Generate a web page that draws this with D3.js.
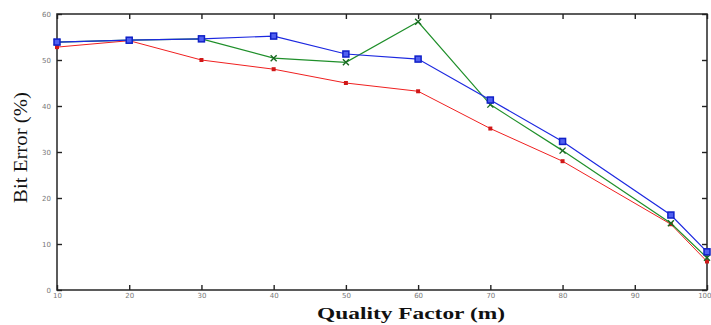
<!DOCTYPE html>
<html><head><meta charset="utf-8">
<script src="https://cdn.jsdelivr.net/npm/d3@7"></script>
<style>body{margin:0;background:#fff}svg{display:block}</style>
</head><body>
<svg id="c" width="711" height="325"></svg>
<script>
const qualityFactors = [10, 20, 30, 40, 50, 60, 70, 80, 95, 100];
const blueSeries  = [53.9, 54.3, 54.6, 55.2, 51.3, 50.2, 41.3, 32.3, 16.3, 8.3];
const greenSeries = [53.9, 54.3, 54.6, 50.4, 49.5, 58.3, 40.3, 30.3, 14.5, 7.0];
const redSeries   = [52.8, 54.2, 50.0, 48.0, 45.0, 43.2, 35.1, 28.0, 14.3, 6.2];
const xTicks = [10, 20, 30, 40, 50, 60, 70, 80, 90, 100];
const yTicks = [0, 10, 20, 30, 40, 50, 60];

const svg = d3.select("#c");
const L = 57, R = 707, T = 14, B = 290;
const x = d3.scaleLinear().domain([10, 100]).range([L, R]);
const y = d3.scaleLinear().domain([0, 60]).range([B, T]);

svg.append("rect").attr("x", L).attr("y", T).attr("width", R - L).attr("height", B - T)
  .attr("fill", "none").attr("stroke", "#333").attr("stroke-width", 1.6);

svg.append("g").attr("transform", `translate(0,${B})`)
  .call(d3.axisBottom(x).tickValues(xTicks).tickSize(-5).tickPadding(3).tickFormat(d3.format("d")));
svg.append("g").attr("transform", `translate(0,${T})`)
  .call(d3.axisTop(x).tickValues(xTicks).tickSize(-5).tickFormat(""));
svg.append("g").attr("transform", `translate(${L},0)`)
  .call(d3.axisLeft(y).tickValues(yTicks).tickSize(-5).tickPadding(6).tickFormat(d3.format("d")));
svg.append("g").attr("transform", `translate(${R},0)`)
  .call(d3.axisRight(y).tickValues(yTicks).tickSize(-5).tickFormat(""));
svg.selectAll(".domain").remove();
svg.selectAll(".tick line").attr("stroke", "#222").attr("stroke-width", 1.4);
svg.selectAll(".tick text").attr("fill", "#777").attr("font-size", 7)
  .attr("font-family", "DejaVu Sans");
svg.selectAll(".tick text").filter(d => d === 100).attr("text-anchor", "end").attr("dx", 4);

const line = d3.line().x((d, i) => x(qualityFactors[i])).y(d => y(d));
const series = [
  {vals: redSeries, color: "#f02020", marker: "dot", w: 1},
  {vals: greenSeries, color: "#1f8f2a", marker: "x", w: 1.2},
  {vals: blueSeries, color: "#1c28e0", marker: "sq", w: 1.2},
];
series.forEach(s => {
  svg.append("path").datum(s.vals).attr("d", line).attr("fill", "none")
    .attr("stroke", s.color).attr("stroke-width", s.w);
  const g = svg.append("g");
  s.vals.forEach((v, i) => {
    const cx = x(qualityFactors[i]), cy = y(v);
    if (s.marker === "dot") {
      g.append("rect").attr("x", cx - 2).attr("y", cy - 2).attr("width", 4).attr("height", 4)
        .attr("fill", "#d01818");
    } else if (s.marker === "x") {
      g.append("path").attr("d", `M${cx-3},${cy-3}L${cx+3},${cy+3}M${cx-3},${cy+3}L${cx+3},${cy-3}`)
        .attr("stroke", "#1a6a22").attr("stroke-width", 1.4);
    } else {
      g.append("rect").attr("x", cx - 3).attr("y", cy - 3).attr("width", 6).attr("height", 6)
        .attr("fill", "#5060f0").attr("stroke", "#1020c8").attr("stroke-width", 1.5);
    }
  });
});

svg.append("text").attr("x", 317).attr("y", 319)
  .attr("textLength", 188).attr("lengthAdjust", "spacingAndGlyphs")
  .attr("font-family", "Liberation Serif").attr("font-weight", "bold").attr("font-size", 17)
  .attr("fill", "#111").text("Quality Factor (m)");
svg.append("text").attr("transform", "translate(27,203) rotate(-90)")
  .attr("textLength", 111).attr("lengthAdjust", "spacingAndGlyphs")
  .attr("font-family", "Liberation Serif").attr("font-size", 18)
  .attr("fill", "#111").text("Bit Error (%)");
</script>
</body></html>
